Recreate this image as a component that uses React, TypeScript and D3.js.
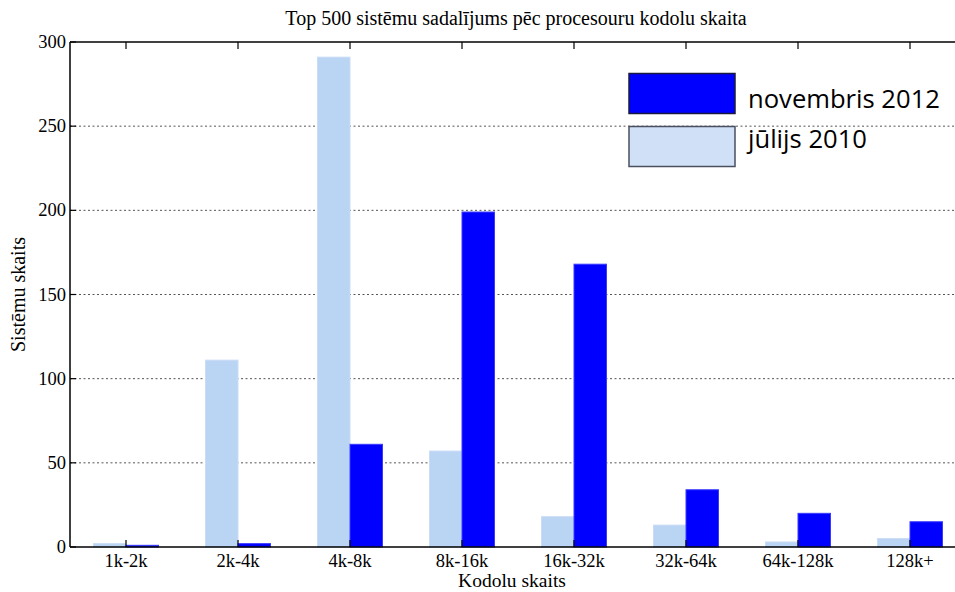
import React from "react";
import * as d3 from "d3";

const categories = ["1k-2k", "2k-4k", "4k-8k", "8k-16k", "16k-32k", "32k-64k", "64k-128k", "128k+"];
const july2010 = [2, 111, 291, 57, 18, 13, 3, 5];
const nov2012 = [1, 2, 61, 199, 168, 34, 20, 15];
const yTicks = [0, 50, 100, 150, 200, 250, 300];
const seriesNames = ["novembris 2012", "jūlijs 2010"];

const W = 955;
const H = 592;
const left = 70;
const right = 966;
const top = 42;
const bottom = 547;

export default function App() {
  const x = d3.scaleBand<string>().domain(categories).range([left, right]).paddingInner(0).paddingOuter(0);
  const y = d3.scaleLinear().domain([0, 300]).range([bottom, top]);
  const bw = 32.5;
  const serif = "'Liberation Serif', 'Times New Roman', serif";
  const sans = "'Open Sans', 'Liberation Sans', sans-serif";
  const cx = (c: string) => (x(c) as number) + x.bandwidth() / 2;

  return (
    <svg width={W} height={H} style={{ position: "absolute", left: 0, top: 0, background: "#fff" }}>
      {/* grid */}
      {yTicks.filter((t) => t > 0 && t < 300).map((t) => (
        <line key={"g" + t} x1={left} x2={right} y1={y(t)} y2={y(t)} stroke="#555" strokeWidth={1} strokeDasharray="2,2.5" />
      ))}
      {/* bars */}
      {categories.map((c, i) => (
        <g key={c}>
          <rect x={cx(c) - bw} y={y(july2010[i])} width={bw} height={bottom - y(july2010[i])} fill="#bad4f3" stroke="#cadcf6" strokeWidth={1} />
          <rect x={cx(c)} y={y(nov2012[i])} width={bw} height={bottom - y(nov2012[i])} fill="#0000ff" stroke="#3a3aff" strokeWidth={1} />
        </g>
      ))}
      {/* axes frame */}
      <line x1={left} x2={right} y1={bottom} y2={bottom} stroke="#000" strokeWidth={1.5} />
      <line x1={left} x2={right} y1={top} y2={top} stroke="#000" strokeWidth={1.5} />
      <line x1={left} x2={left} y1={top} y2={bottom} stroke="#000" strokeWidth={1.5} />
      {/* y ticks */}
      {yTicks.map((t) => (
        <g key={"y" + t}>
          <line x1={left} x2={left + 6} y1={y(t)} y2={y(t)} stroke="#000" strokeWidth={1.2} />
          <text x={left - 4} y={y(t) + 6} textAnchor="end" fontFamily={serif} fontSize={18.5} fill="#000">{t}</text>
        </g>
      ))}
      {/* x ticks */}
      {categories.map((c) => (
        <g key={"x" + c}>
          <line x1={cx(c)} x2={cx(c)} y1={bottom} y2={bottom - 7} stroke="#000" strokeWidth={1.2} />
          <line x1={cx(c)} x2={cx(c)} y1={top} y2={top + 7} stroke="#000" strokeWidth={1.2} />
          <text x={cx(c)} y={bottom + 20} textAnchor="middle" fontFamily={serif} fontSize={18.5} fill="#000">{c}</text>
        </g>
      ))}
      {/* title & labels */}
      <text x={516} y={25} textAnchor="middle" fontFamily={serif} fontSize={20} fill="#000">Top 500 sistēmu sadalījums pēc procesouru kodolu skaita</text>
      <text x={512} y={587} textAnchor="middle" fontFamily={serif} fontSize={19.5} fill="#000">Kodolu skaits</text>
      <text transform={`translate(25, ${(top + bottom) / 2}) rotate(-90)`} textAnchor="middle" fontFamily={serif} fontSize={20} fill="#000">Sistēmu skaits</text>
      {/* legend */}
      <rect x={629} y={73.5} width={106} height={40} fill="#0000ff" stroke="#1a1a40" strokeWidth={1.5} />
      <rect x={629} y={126.5} width={106} height={40} fill="#cfe0f7" stroke="#4a5060" strokeWidth={1.5} />
      <text x={748} y={108} fontFamily={sans} fontSize={25.6} fill="#000">{seriesNames[0]}</text>
      <text x={748} y={148} fontFamily={sans} fontSize={25.6} fill="#000">{seriesNames[1]}</text>
    </svg>
  );
}
